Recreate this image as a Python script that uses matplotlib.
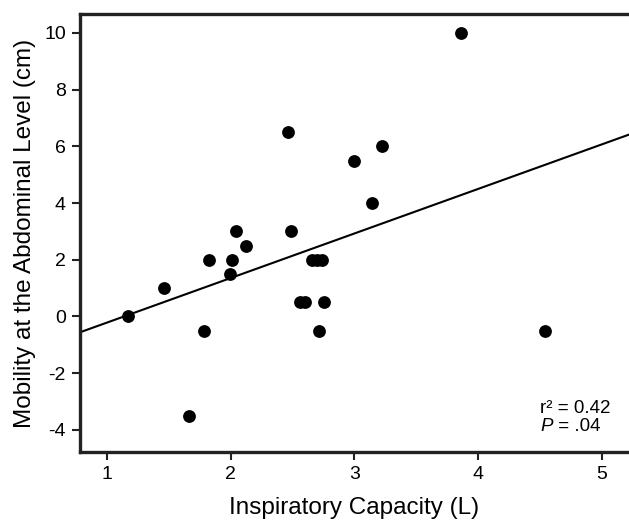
import matplotlib
matplotlib.use("Agg")
import matplotlib.pyplot as plt

plt.rcParams['font.family'] = ['Liberation Sans', 'DejaVu Sans']
plt.rcParams['axes.unicode_minus'] = False

# Data
inspiratory_capacity = [1.17, 1.46, 1.66, 1.78, 1.82, 1.99, 2.01, 2.04, 2.12,
                        2.46, 2.49, 2.56, 2.60, 2.66, 2.70, 2.74, 2.71, 2.75,
                        3.00, 3.14, 3.22, 3.86, 4.54]
mobility_abdominal = [0.0, 1.0, -3.5, -0.5, 2.0, 1.5, 2.0, 3.0, 2.5,
                      6.5, 3.0, 0.5, 0.5, 2.0, 2.0, 2.0, -0.5, 0.5,
                      5.5, 4.0, 6.0, 10.0, -0.5]
fit_slope = 1.571
fit_intercept = -1.785
x_ticks = [1, 2, 3, 4, 5]
y_ticks = [-4, -2, 0, 2, 4, 6, 8, 10]
stats_r2 = "0.42"
stats_p = ".04"

fig = plt.figure(figsize=(6.29, 5.2), dpi=100)
ax = fig.add_axes([0.127, 0.1308, 0.873, 0.8423])

xlim = (0.78, 5.22)
ylim = (-4.78, 10.67)
ax.set_xlim(*xlim)
ax.set_ylim(*ylim)

ax.scatter(inspiratory_capacity, mobility_abdominal, s=85, color='black',
           zorder=3, linewidths=0)
ax.plot(list(xlim), [fit_intercept + fit_slope * v for v in xlim],
        color='black', lw=1.5, zorder=2)

ax.set_xticks(x_ticks)
ax.set_yticks(y_ticks)
ax.tick_params(direction='out', length=6, width=1.5, color='#222222',
               labelsize=14, pad=4)
for s in ['left', 'bottom', 'top']:
    ax.spines[s].set_linewidth(2.4)
    ax.spines[s].set_color('#222222')
ax.spines['right'].set_visible(False)

ax.set_xlabel('Inspiratory Capacity (L)', fontsize=17.5, labelpad=10)
ax.set_ylabel('Mobility at the Abdominal Level (cm)', fontsize=17.5, labelpad=6)

ax.text(0.838, 0.089, "r\u00b2 = " + stats_r2, transform=ax.transAxes,
        fontsize=13.5, ha='left', va='baseline')
ax.text(0.838, 0.049, "P", transform=ax.transAxes, style='italic',
        fontsize=13.5, ha='left', va='baseline')
ax.text(0.862, 0.049, " = " + stats_p, transform=ax.transAxes,
        fontsize=13.5, ha='left', va='baseline')

fig.savefig('out.png', dpi=100)
